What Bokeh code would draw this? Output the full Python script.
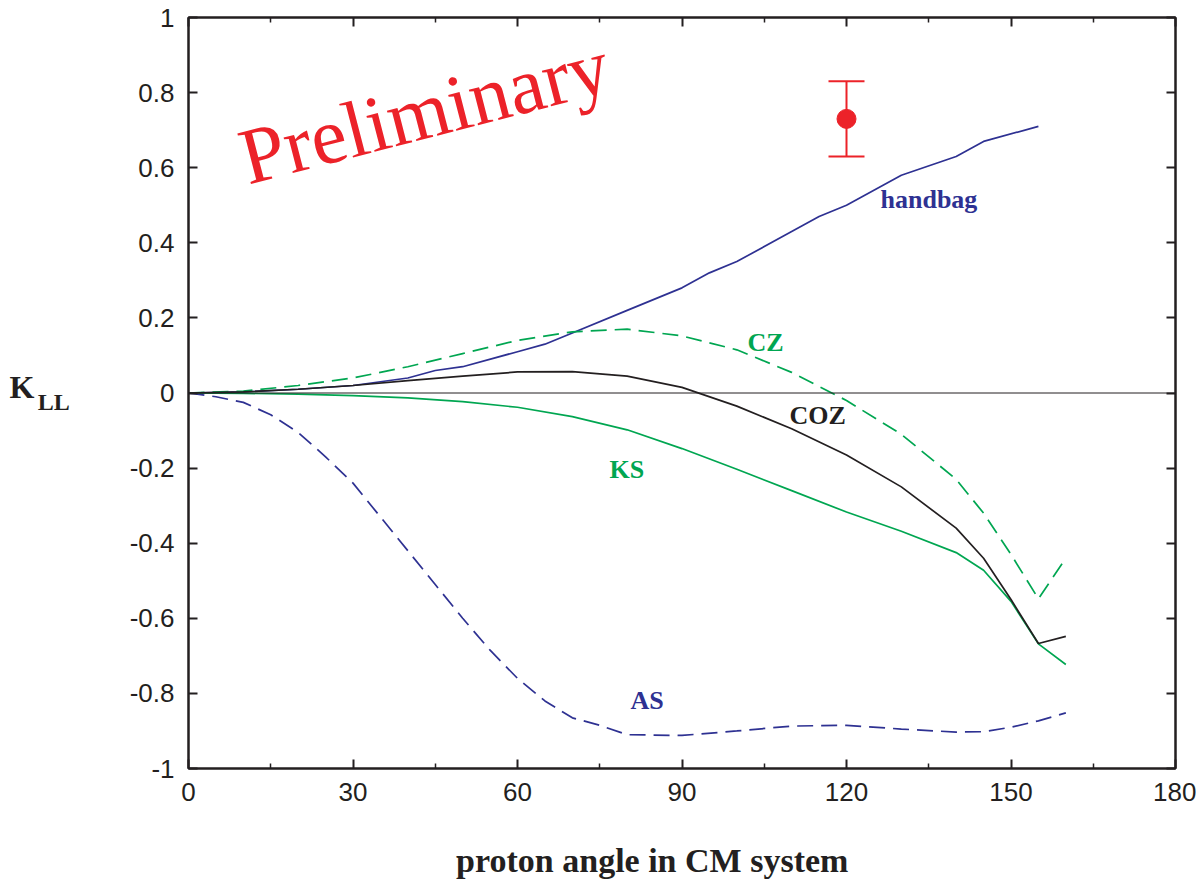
from bokeh.plotting import figure
from bokeh.models import (Range1d, FixedTicker, LinearAxis, Label, Span, Whisker,
                          TeeHead, ColumnDataSource)
from bokeh.embed import file_html
from bokeh.resources import INLINE

# ---------------- data ----------------
handbag_x = [0, 10, 20, 30, 40, 45, 50, 60, 65, 70, 80, 90, 95, 100, 110, 115, 120, 130, 140, 145, 155]
handbag_y = [0, 0.003, 0.01, 0.02, 0.04, 0.06, 0.07, 0.11, 0.13, 0.16, 0.22, 0.28, 0.32, 0.35, 0.43,
             0.47, 0.50, 0.58, 0.63, 0.67, 0.71]

angles = [0, 10, 20, 30, 40, 50, 60, 70, 80, 90, 100, 110, 120, 130, 140, 145, 150, 155, 160]
cz_y = [0, 0.005, 0.02, 0.04, 0.07, 0.105, 0.14, 0.163, 0.17, 0.152, 0.115, 0.055, -0.02, -0.11,
        -0.23, -0.32, -0.43, -0.548, -0.44]
coz_y = [0, 0.003, 0.01, 0.02, 0.033, 0.045, 0.056, 0.057, 0.045, 0.015, -0.035, -0.095, -0.165,
         -0.25, -0.36, -0.44, -0.55, -0.667, -0.648]
ks_y = [0, -0.001, -0.003, -0.007, -0.013, -0.023, -0.038, -0.063, -0.098, -0.148, -0.203, -0.26,
        -0.317, -0.368, -0.425, -0.472, -0.555, -0.668, -0.723]

as_x = [0, 5, 10, 15, 20, 25, 30, 35, 40, 45, 50, 55, 60, 65, 70, 75, 80, 90, 100, 110, 120, 130,
        140, 145, 150, 155, 160]
as_y = [0, -0.01, -0.025, -0.058, -0.105, -0.17, -0.24, -0.33, -0.42, -0.51, -0.6, -0.685, -0.76,
        -0.82, -0.865, -0.885, -0.91, -0.912, -0.9, -0.887, -0.885, -0.895, -0.903, -0.902, -0.89,
        -0.873, -0.852]

point_x = [120]
point_y = [0.73]
point_err = [0.1]

x_ticks = [0, 30, 60, 90, 120, 150, 180]
x_minor = [15, 45, 75, 105, 135, 165]
y_ticks = [-1, -0.8, -0.6, -0.4, -0.2, 0, 0.2, 0.4, 0.6, 0.8, 1]
y_tick_labels = ["-1", "-0.8", "-0.6", "-0.4", "-0.2", "0", "0.2", "0.4", "0.6", "0.8", "1"]

x_title = "proton angle in CM system"
y_title_main = "K"
y_title_sub = "LL"

# ---------------- layout ----------------
W, H = 1196, 881
BL, BR, BT, BB = 188, 21, 17, 113
X0, X1, Y0, Y1 = 0, 180, -1, 1
FW, FH = W - BL - BR, H - BT - BB

def dx(px):
    return X0 + (px - BL) / FW * (X1 - X0)

def dy(py):
    return Y1 - (py - BT) / FH * (Y1 - Y0)

BLUE = "#2E3192"
GREEN = "#00A651"
BLACK = "#231F20"
RED = "#EC2229"
SERIF = "Liberation Serif"
NBSP = "\u00a0"

p = figure(width=W, height=H, output_backend="svg", toolbar_location=None,
           x_range=Range1d(X0, X1), y_range=Range1d(Y0, Y1),
           x_axis_location=None, y_axis_location=None,
           min_border_left=BL, min_border_right=BR, min_border_top=BT, min_border_bottom=BB)
p.grid.visible = False
p.outline_line_color = BLACK
p.outline_line_width = 2
p.background_fill_color = "white"
p.border_fill_color = "white"

def make_axis(kind, show_labels):
    ax = LinearAxis()
    if kind == "x":
        ax.ticker = FixedTicker(ticks=x_ticks, minor_ticks=x_minor)
    else:
        ax.ticker = FixedTicker(ticks=y_ticks, minor_ticks=[])
        ax.major_label_overrides = dict(zip(y_ticks, y_tick_labels))
    ax.axis_line_color = BLACK
    ax.axis_line_width = 2
    ax.major_tick_line_color = BLACK
    ax.major_tick_line_width = 2
    ax.major_tick_in = 9
    ax.major_tick_out = 0
    ax.minor_tick_line_color = BLACK
    ax.minor_tick_line_width = 1.5
    ax.minor_tick_in = 5
    ax.minor_tick_out = 0
    if show_labels:
        ax.major_label_text_font = "Liberation Sans"
        ax.major_label_text_font_size = "26px"
        ax.major_label_text_color = BLACK
        ax.major_label_standoff = 14
    else:
        ax.major_label_text_font_size = "0px"
        ax.major_label_standoff = 0
    return ax

xb = make_axis("x", True)
# trailing no-break spaces shift the centred title left, as in the reference
xb.axis_label = x_title + NBSP * 7
xb.axis_label_text_font = SERIF
xb.axis_label_text_font_size = "34px"
xb.axis_label_text_font_style = "bold"
xb.axis_label_text_color = BLACK
xb.axis_label_standoff = 38
p.add_layout(xb, "below")
p.add_layout(make_axis("x", False), "above")

yl = make_axis("y", True)
yl.axis_label = "\n" + y_title_sub          # blank first line lowers the subscript
yl.axis_label_orientation = "horizontal"
yl.axis_label_text_font = SERIF
yl.axis_label_text_font_size = "24px"
yl.axis_label_text_font_style = "bold"
yl.axis_label_text_color = BLACK
yl.axis_label_text_line_height = 0.7
yl.axis_label_standoff = 57
p.add_layout(yl, "left")

# outer (title-only) axis carrying the main letter of the y title
yk = LinearAxis(ticker=FixedTicker(ticks=[]), axis_line_color=None,
                major_tick_line_color=None, minor_tick_line_color=None,
                major_tick_out=0, major_tick_in=0, minor_tick_out=0, minor_tick_in=0,
                major_label_text_font_size="0px", major_label_standoff=0)
yk.axis_label = y_title_main + "\n"         # blank last line raises the main letter
yk.axis_label_orientation = "horizontal"
yk.axis_label_text_font = SERIF
yk.axis_label_text_font_size = "32px"
yk.axis_label_text_font_style = "bold"
yk.axis_label_text_color = BLACK
yk.axis_label_text_line_height = 0.34
yk.axis_label_standoff = 0
p.add_layout(yk, "left")

p.add_layout(make_axis("y", False), "right")

p.add_layout(Span(location=0, dimension="width", line_color=BLACK, line_width=1))

lw = 1.7
p.line(handbag_x, handbag_y, line_color=BLUE, line_width=lw)
p.line(as_x, as_y, line_color=BLUE, line_width=lw, line_dash="16 8")
p.line(angles, cz_y, line_color=GREEN, line_width=lw, line_dash="16 8")
p.line(angles, ks_y, line_color=GREEN, line_width=lw)
p.line(angles, coz_y, line_color=BLACK, line_width=lw)

# data point with error bar
src = ColumnDataSource(dict(x=point_x, y=point_y,
                            upper=[v + e for v, e in zip(point_y, point_err)],
                            lower=[v - e for v, e in zip(point_y, point_err)]))
p.add_layout(Whisker(source=src, base="x", upper="upper", lower="lower", dimension="height",
                     line_color=RED, line_width=2,
                     upper_head=TeeHead(size=36, line_color=RED, line_width=2),
                     lower_head=TeeHead(size=36, line_color=RED, line_width=2)))
p.scatter("x", "y", source=src, size=19, color=RED)

def lab(text, px, py, color, size, style="bold", font=SERIF, align="left", angle=0):
    p.add_layout(Label(x=dx(px), y=dy(py), text=text, text_color=color, text_font=font,
                       text_font_size=size, text_font_style=style, text_align=align,
                       text_baseline="alphabetic", angle=angle, angle_units="deg"))

lab("handbag", 880, 199, BLUE, "26px")
lab("CZ", 747, 342, GREEN, "26px")
lab("COZ", 789, 415, BLACK, "26px")
lab("KS", 609, 469, GREEN, "26px")
lab("AS", 630, 700, BLUE, "26px")
lab("Preliminary", 241, 158, RED, "80px", style="normal", angle=14.5)

open("out.html", "w").write(file_html(p, INLINE))
